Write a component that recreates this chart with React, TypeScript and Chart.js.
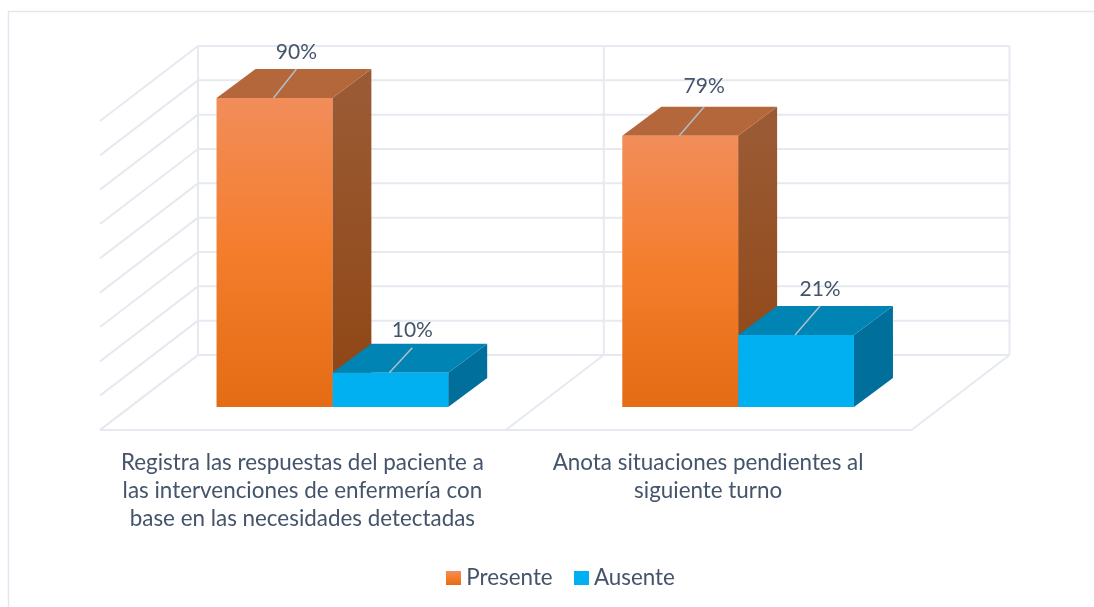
import React, { useEffect, useRef } from "react";
import { Chart, registerables } from "chart.js";

Chart.register(...registerables);

const categories = [
  ["Registra las respuestas del paciente a", "las intervenciones de enfermería con", "base en las necesidades detectadas"],
  ["Anota situaciones pendientes al", "siguiente turno"],
];
const presente = [90, 79];
const ausente = [10, 21];
const seriesNames = ["Presente", "Ausente"];
const axisMax = 90;
const axisStep = 10;

const FONT = "Lato, Carlito, 'Open Sans', sans-serif";
const TEXT = "#44546A";
const GRID = "#E6E9F0";
const W = 1094;
const H = 607;
const WALL = { x: 68.5, y: -52 };
const FRONT = { x: -29.5, y: 23 };
const DEPTH = { x: 39, y: -29 };
// small per-label nudges [dx, dy], by dataset then category
const LABEL_NUDGE = [
  [[1, 0], [3, -4]],
  [[1, 4], [3, 0]],
];
const LEADER_RISE = [
  [29, 29],
  [25, 29],
];

const orangeFront = (c: CanvasRenderingContext2D, top: number, bottom: number) => {
  const g = c.createLinearGradient(0, top, 0, bottom);
  g.addColorStop(0, "#F28D5A");
  g.addColorStop(0.5, "#F47D2C");
  g.addColorStop(1, "#E46C14");
  return g;
};

const swatch = (kind: "orange" | "blue") => {
  const cv = document.createElement("canvas");
  cv.width = 15;
  cv.height = 14;
  const c = cv.getContext("2d")!;
  c.fillStyle = kind === "orange" ? orangeFront(c, 0, 14) : "#00B0F0";
  c.fillRect(0, 0, 15, 14);
  return cv;
};

const poly = (c: CanvasRenderingContext2D, pts: number[][], fill: any) => {
  c.beginPath();
  pts.forEach((p, i) => (i ? c.lineTo(p[0], p[1]) : c.moveTo(p[0], p[1])));
  c.closePath();
  c.fillStyle = fill;
  c.fill();
};

const line = (c: CanvasRenderingContext2D, x1: number, y1: number, x2: number, y2: number) => {
  c.beginPath();
  c.moveTo(x1, y1);
  c.lineTo(x2, y2);
  c.stroke();
};

const stage3d = {
  id: "stage3d",
  beforeDraw(chart: any) {
    const c = chart.ctx;
    c.save();
    c.strokeStyle = "#E3E6EE";
    c.lineWidth = 1.5;
    c.beginPath();
    c.moveTo(W + 2, 11.5);
    c.lineTo(8.5, 11.5);
    c.lineTo(8.5, H + 2);
    c.stroke();
    c.restore();
  },
  beforeDatasetsDraw(chart: any) {
    const c = chart.ctx;
    const xs = chart.scales.x;
    const ys = chart.scales.y;
    const base = ys.getPixelForValue(0);
    const half = (xs.getPixelForValue(1) - xs.getPixelForValue(0)) / 2;
    const bounds = [xs.getPixelForValue(0) - half, xs.getPixelForValue(0) + half, xs.getPixelForValue(1) + half];
    const dxFloor = WALL.x - FRONT.x;
    const dyFloor = WALL.y - FRONT.y;
    c.save();
    c.strokeStyle = GRID;
    c.lineWidth = 2;
    ys.ticks.forEach((t: any) => {
      const y = ys.getPixelForValue(t.value) + WALL.y;
      line(c, bounds[0] + WALL.x, y, bounds[2] + WALL.x, y);
      line(c, bounds[0] + WALL.x, y, bounds[0] + WALL.x - dxFloor, y - dyFloor);
    });
    const topY = ys.getPixelForValue(axisMax) + WALL.y;
    const backY = base + WALL.y;
    bounds.forEach((b) => {
      line(c, b + WALL.x, topY, b + WALL.x, backY);
      line(c, b + WALL.x, backY, b + FRONT.x, base + FRONT.y);
    });
    line(c, bounds[0] + FRONT.x, base + FRONT.y, bounds[2] + FRONT.x, base + FRONT.y);
    c.restore();

    chart.data.datasets.forEach((ds: any, di: number) => {
      const bars = chart.getDatasetMeta(di).data;
      bars.forEach((b: any) => {
        const w = b.width / 2;
        const l = b.x - w;
        const r = b.x + w;
        const t = b.y;
        const g = c.createLinearGradient(0, t, 0, base);
        if (di === 0) {
          g.addColorStop(0, "#9A5A33");
          g.addColorStop(1, "#8F4513");
        } else {
          g.addColorStop(0, "#006F9B");
          g.addColorStop(1, "#006F9B");
        }
        poly(c, [[r, t], [r + DEPTH.x, t + DEPTH.y], [r + DEPTH.x, base + DEPTH.y], [r, base]], g);
        poly(c, [[l, t], [l + DEPTH.x, t + DEPTH.y], [r + DEPTH.x, t + DEPTH.y], [r, t]], di === 0 ? "#B5673C" : "#0084B4");
      });
    });
  },
  afterDatasetsDraw(chart: any) {
    const c = chart.ctx;
    c.save();
    c.font = `21px ${FONT}`;
    c.textAlign = "center";
    c.textBaseline = "middle";
    chart.data.datasets.forEach((ds: any, di: number) => {
      chart.getDatasetMeta(di).data.forEach((b: any, i: number) => {
        const [nx, ny] = LABEL_NUDGE[di][i];
        c.strokeStyle = "#B4BCC8";
        c.lineWidth = 1.5;
        line(c, b.x - 1, b.y, b.x + 21 + nx, b.y - LEADER_RISE[di][i]);
        c.fillStyle = TEXT;
        c.fillText(`${ds.data[i]}%`, b.x + 21 + nx, b.y - 46 + ny);
      });
    });
    c.restore();
  },
};

export default function App() {
  const ref = useRef<HTMLCanvasElement>(null);
  useEffect(() => {
    const cv = ref.current!;
    const swatches = [swatch("orange"), swatch("blue")];
    const frontFill = (ctx: any) => {
      const chart = ctx.chart;
      const el = ctx.raw;
      if (!chart.chartArea || el == null) return "#F47D2C";
      const ys = chart.scales.y;
      return orangeFront(chart.ctx, ys.getPixelForValue(el), ys.getPixelForValue(0));
    };
    const chart = new Chart(cv, {
      type: "bar",
      data: {
        labels: categories,
        datasets: [
          { label: seriesNames[0], data: presente, backgroundColor: frontFill },
          { label: seriesNames[1], data: ausente, backgroundColor: "#00B0F0" },
        ],
      },
      options: {
        responsive: false,
        animation: false,
        layout: { padding: { left: 33, right: 0, top: 98, bottom: 7.6 } },
        datasets: { bar: { categoryPercentage: 0.571, barPercentage: 1 } },
        scales: {
          x: {
            grid: { display: false },
            border: { display: false },
            ticks: {
              padding: 34,
              labelOffset: -30,
              autoSkip: false,
              maxRotation: 0,
              minRotation: 0,
              color: TEXT,
              font: { family: FONT, size: 22.4, lineHeight: 1.25 },
            },
            afterFit: (a: any) => {
              a.height = 133;
            },
          },
          y: {
            min: 0,
            max: axisMax,
            ticks: { display: false, stepSize: axisStep },
            grid: { display: false },
            border: { display: false },
            afterFit: (a: any) => {
              a.width = 96.5;
            },
          },
          yRight: {
            axis: "y",
            position: "right",
            min: 0,
            max: axisMax,
            ticks: { display: false },
            grid: { display: false },
            border: { display: false },
            afterFit: (a: any) => {
              a.width = 153;
            },
          },
        },
        plugins: {
          tooltip: { enabled: false },
          legend: {
            position: "bottom",
            labels: {
              usePointStyle: true,
              boxWidth: 3,
              boxHeight: 14,
              padding: 27,
              color: TEXT,
              font: { family: FONT, size: 22.4 },
              generateLabels: () =>
                seriesNames.map((n, i) => ({
                  text: n,
                  datasetIndex: i,
                  pointStyle: swatches[i],
                  fontColor: TEXT,
                  lineWidth: 0,
                  hidden: false,
                })),
            },
          },
        },
      } as any,
      plugins: [stage3d],
    } as any);
    return () => chart.destroy();
  }, []);
  return <canvas ref={ref} width={W} height={H} style={{ position: "fixed", left: 0, top: 0, width: W, height: H }} />;
}
